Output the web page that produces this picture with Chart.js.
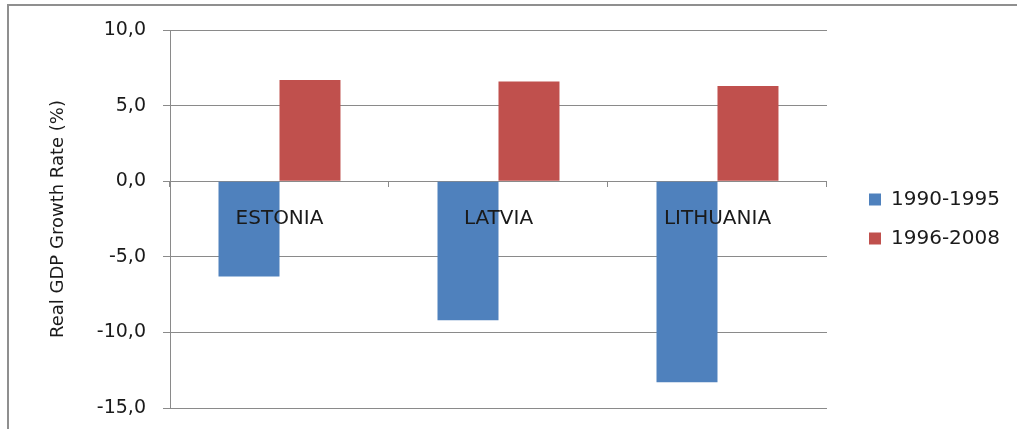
<!DOCTYPE html>
<html>
<head>
<meta charset="utf-8">
<script src="https://cdn.jsdelivr.net/npm/chart.js@4"></script>
<style>
  html, body { margin: 0; padding: 0; background: #fff; overflow: hidden; }
  #wrap { position: relative; width: 1017px; height: 429px; overflow: hidden; }
  #frame { position: absolute; left: 7px; top: 4px; width: 1008px; height: 423px;
           border-left: 2px solid #8f8f8f; border-top: 2px solid #8f8f8f; }
  #chart_box { position: absolute; left: 0; top: 0; width: 1017px; height: 429px; }
</style>
</head>
<body>
<div id="wrap">
  <div id="frame"></div>
  <div id="chart_box"><canvas id="main_chart_canvas"></canvas></div>
</div>
<script>
// countries on the category axis
const countries = ['ESTONIA', 'LATVIA', 'LITHUANIA'];
// average real GDP growth, %
const growth_1990_1995 = [-6.3, -9.2, -13.3];
const growth_1996_2008 = [6.7, 6.6, 6.3];
const series_labels = ['1990-1995', '1996-2008'];
const y_ticks = [10, 5, 0, -5, -10, -15];

const txt = '#1a1a1a';
const grid = '#8a8a8a';

// push the legend a bit away from the plot, like the original
const legendNudge = {
  id: 'legendNudge',
  afterLayout(chart) {
    if (chart.legend) {
      chart.legend.left += 23;
      chart.legend.right += 23;
    }
  }
};

const ctx = document.getElementById('main_chart_canvas').getContext('2d');
new Chart(ctx, {
  type: 'bar',
  data: {
    labels: countries,
    datasets: [
      { label: series_labels[0], data: growth_1990_1995, backgroundColor: '#4f81bd' },
      { label: series_labels[1], data: growth_1996_2008, backgroundColor: '#c0504d' }
    ]
  },
  options: {
    responsive: true,
    maintainAspectRatio: false,
    animation: false,
    categoryPercentage: 0.557,
    barPercentage: 1,
    layout: { padding: { left: 44, top: 30, right: 30, bottom: 21 } },
    scales: {
      x: {
        position: { y: 0 },
        grid: { drawOnChartArea: false, drawTicks: true, tickLength: 5, color: grid, offset: true },
        border: { display: true, color: grid },
        ticks: { color: txt, font: { family: 'DejaVu Sans', size: 20 }, padding: 21, z: 1 }
      },
      y: {
        min: -15,
        max: 10,
        // fixed axis width, and no extra room reserved above/below the plot
        afterFit: scale => {
          scale.width = 126;
          scale.paddingTop = 0;
          scale.paddingBottom = 0;
        },
        afterBuildTicks: scale => { scale.ticks = y_ticks.map(v => ({ value: v })); },
        grid: { color: grid, tickLength: 7 },
        border: { display: true, color: grid },
        ticks: {
          color: txt,
          font: { family: 'DejaVu Sans', size: 19 },
          padding: 17,
          callback: v => v.toFixed(1).replace('.', ',')
        },
        title: {
          display: true,
          text: 'Real GDP Growth Rate (%)',
          color: txt,
          font: { family: 'DejaVu Sans', size: 18 },
          padding: { top: 4, bottom: 0 }
        }
      }
    },
    plugins: {
      legend: {
        position: 'right',
        labels: { color: txt, font: { family: 'DejaVu Sans', size: 20 }, boxWidth: 12, boxHeight: 12, padding: 19 }
      },
      tooltip: { enabled: false }
    }
  },
  plugins: [legendNudge]
});
</script>
</body>
</html>
